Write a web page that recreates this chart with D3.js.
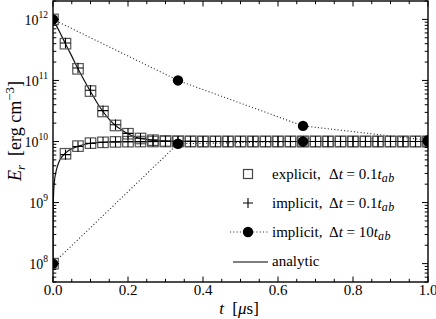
<!DOCTYPE html>
<html><head><meta charset="utf-8">
<script src="https://cdn.jsdelivr.net/npm/d3@7"></script>
<style>body{margin:0;background:#fff}svg{display:block}text{font-family:"Liberation Serif","DejaVu Serif",serif;fill:#000}</style>
</head><body><svg id="c" width="436" height="319"></svg>
<script>
// ---- data ----
const tSteps = [0,0.0333,0.0667,0.1,0.1333,0.1667,0.2,0.2333,0.2667,0.3,0.3333,0.3667,0.4,0.4333,0.4667,0.5,0.5333,0.5667,0.6,0.6333,0.6667,0.7,0.7333,0.7667,0.8,0.8333,0.8667,0.9,0.9333,0.9667,1.0];
const explicitHigh = [1e12,4.0e11,1.55e11,6.7e10,3.1e10,1.83e10,1.34e10,1.12e10,1.05e10,1.02e10,1.01e10,1.005e10,1e10,1e10,1e10,1e10,1e10,1e10,1e10,1e10,1e10,1e10,1e10,1e10,1e10,1e10,1e10,1e10,1e10,1e10,1e10];
const explicitLow  = [1e8,6.3e9,8.4e9,9.4e9,9.7e9,9.85e9,9.93e9,9.97e9,1e10,1e10,1e10,1e10,1e10,1e10,1e10,1e10,1e10,1e10,1e10,1e10,1e10,1e10,1e10,1e10,1e10,1e10,1e10,1e10,1e10,1e10,1e10];
const implicitHigh = [1e12,4.1e11,1.6e11,6.9e10,3.2e10,1.88e10,1.36e10,1.13e10,1.06e10,1.02e10,1.01e10,1.005e10,1e10,1e10,1e10,1e10,1e10,1e10,1e10,1e10,1e10,1e10,1e10,1e10,1e10,1e10,1e10,1e10,1e10,1e10,1e10];
const implicitLow  = [1e8,6.1e9,8.3e9,9.3e9,9.7e9,9.85e9,9.93e9,9.97e9,1e10,1e10,1e10,1e10,1e10,1e10,1e10,1e10,1e10,1e10,1e10,1e10,1e10,1e10,1e10,1e10,1e10,1e10,1e10,1e10,1e10,1e10,1e10];
const tBig = [0,0.3333,0.6667,1.0];
const bigHigh = [1e12,1.0e11,1.8e10,1.05e10];
const bigLow  = [1e8,9.2e9,1.0e10,1.0e10];
const tAnalytic = [0,0.0167,0.0333,0.05,0.0667,0.0833,0.1,0.1167,0.1333,0.15,0.1667,0.1833,0.2,0.2167,0.2333,0.25,0.2667,0.3,0.35,0.4,0.5,0.7,1.0];
const analyticHigh = [1e12,6.4e11,4.0e11,2.5e11,1.55e11,1.0e11,6.6e10,4.4e10,3.1e10,2.3e10,1.83e10,1.55e10,1.34e10,1.2e10,1.12e10,1.08e10,1.05e10,1.02e10,1.01e10,1e10,1e10,1e10,1e10];
const tAnalyticLow = [0,0.0003,0.001,0.002,0.004,0.007,0.01,0.015,0.02,0.03,0.04,0.05,0.07,0.1,0.13,0.16,0.2,0.25,0.3,0.4,0.5,0.7,1.0];
const analyticLow = [1e8,6e8,1.1e9,1.6e9,2.3e9,3.0e9,3.6e9,4.5e9,5.2e9,6.2e9,7.0e9,7.6e9,8.5e9,9.35e9,9.7e9,9.85e9,9.94e9,9.98e9,1e10,1e10,1e10,1e10,1e10];
const xTicks = [0,0.2,0.4,0.6,0.8,1.0];
const xTickLabels = ["0.0","0.2","0.4","0.6","0.8","1.0"];
const yDecades = [8,9,10,11,12];
const legendLabels = ["explicit,","implicit,","implicit,","analytic"];
const legendDt = ["0.1","0.1","10"];

// ---- layout ----
const svg = d3.select("#c");
const L=53, R=428, T=1, B=282;
const x = d3.scaleLinear().domain([0,1]).range([L,R]);
const y = d3.scaleLog().domain([5.0e7,2.0e12]).range([B,T]);

svg.append("defs").append("clipPath").attr("id","clip").append("rect")
  .attr("x",L).attr("y",T).attr("width",R-L).attr("height",B-T);
const plot = svg.append("g").attr("clip-path","url(#clip)");

// analytic lines
const lineA = d3.line().x(d=>x(d[0])).y(d=>y(d[1])).curve(d3.curveMonotoneX);
plot.append("path").attr("d",lineA(tAnalytic.map((t,i)=>[t,analyticHigh[i]])))
  .attr("fill","none").attr("stroke","#111").attr("stroke-width",1.2);
plot.append("path").attr("d",lineA(tAnalyticLow.map((t,i)=>[t,analyticLow[i]])))
  .attr("fill","none").attr("stroke","#111").attr("stroke-width",1.2);

// dotted lines for implicit 10 t_ab
const lineL = d3.line().x(d=>x(d[0])).y(d=>y(d[1]));
[bigHigh,bigLow].forEach(arr=>{
  plot.append("path").attr("d",lineL(tBig.map((t,i)=>[t,arr[i]])))
    .attr("fill","none").attr("stroke","#333").attr("stroke-width",1.1).attr("stroke-dasharray","1.1,2.2");
});

// squares
const S=10.5;
[explicitHigh,explicitLow].forEach(arr=>{
  plot.selectAll(null).data(tSteps.map((t,i)=>[t,arr[i]])).enter().append("rect")
    .attr("x",d=>x(d[0])-S/2).attr("y",d=>y(d[1])-S/2).attr("width",S).attr("height",S)
    .attr("fill","none").attr("stroke","#555").attr("stroke-width",1.2);
});
// pluses
const P=5.2;
[implicitHigh,implicitLow].forEach(arr=>{
  plot.selectAll(null).data(tSteps.map((t,i)=>[t,arr[i]])).enter().append("path")
    .attr("d",d=>{const cx=x(d[0]),cy=y(d[1]);return `M${cx-P},${cy}H${cx+P}M${cx},${cy-P}V${cy+P}`;})
    .attr("stroke","#000").attr("stroke-width",1.1).attr("fill","none");
});
// circles
[bigHigh,bigLow].forEach(arr=>{
  plot.selectAll(null).data(tBig.map((t,i)=>[t,arr[i]])).enter().append("circle")
    .attr("cx",d=>x(d[0])).attr("cy",d=>y(d[1])).attr("r",5.2).attr("fill","#000");
});

// ---- axes / frame ----
const ax = svg.append("g").attr("stroke","#000").attr("stroke-width",1);
const xMinor = d3.range(0,1.0001,0.05);
xMinor.forEach((v,i)=>{
  const major = i%4===0, len = major?5.5:3.2;
  ax.append("line").attr("x1",x(v)).attr("x2",x(v)).attr("y1",B).attr("y2",B-len);
  ax.append("line").attr("x1",x(v)).attr("x2",x(v)).attr("y1",T).attr("y2",T+len);
});
const yTicksAll=[];
[7,8,9,10,11,12].forEach(e=>{for(let m=1;m<10;m++){const v=m*Math.pow(10,e); if(v>=y.domain()[0]&&v<=y.domain()[1]) yTicksAll.push([v,m===1]);}});
yTicksAll.forEach(([v,major])=>{
  const len = major?6:3.3;
  ax.append("line").attr("x1",L).attr("x2",L+len).attr("y1",y(v)).attr("y2",y(v));
  ax.append("line").attr("x1",R).attr("x2",R-len).attr("y1",y(v)).attr("y2",y(v));
});
svg.append("rect").attr("x",L).attr("y",T).attr("width",R-L).attr("height",B-T)
  .attr("fill","none").attr("stroke","#000").attr("stroke-width",1.4);

// tick labels
xTicks.forEach((v,i)=>{
  svg.append("text").attr("x",x(v)).attr("y",295).attr("text-anchor","middle")
    .attr("font-size",15).text(xTickLabels[i]);
});
yDecades.forEach(e=>{
  const t = svg.append("text").attr("x",48).attr("y",y(Math.pow(10,e))+5.5).attr("text-anchor","end").attr("font-size",14);
  t.append("tspan").text("10");
  t.append("tspan").attr("font-size",9.5).attr("dy",-7).text(String(e));
});

// axis titles
const xt = svg.append("text").attr("x",239).attr("y",314).attr("text-anchor","middle").attr("font-size",17);
xt.append("tspan").attr("font-style","italic").text("t");
xt.append("tspan").text("\u2002[");
xt.append("tspan").attr("font-style","italic").text("\u03bc");
xt.append("tspan").text("s]");

const yt = svg.append("text").attr("transform","translate(21,131) rotate(-90)").attr("text-anchor","middle").attr("font-size",18);
yt.append("tspan").attr("font-style","italic").text("E");
yt.append("tspan").attr("font-style","italic").attr("font-size",13).attr("dy",4).text("r");
yt.append("tspan").attr("dy",-4).text("\u2002[erg cm");
yt.append("tspan").attr("font-size",13).attr("dy",-7).text("\u22123");
yt.append("tspan").attr("dy",7).text("]");

// legend
const lx=248, rows=[174,203,232,262], tx=272;
svg.append("rect").attr("x",lx-4.5).attr("y",rows[0]-4.5).attr("width",9).attr("height",9)
  .attr("fill","none").attr("stroke","#444").attr("stroke-width",1.2);
svg.append("path").attr("d",`M${lx-5},${rows[1]}H${lx+5}M${lx},${rows[1]-5}V${rows[1]+5}`).attr("stroke","#000").attr("stroke-width",1.1);
svg.append("line").attr("x1",230).attr("x2",268).attr("y1",rows[2]).attr("y2",rows[2])
  .attr("stroke","#333").attr("stroke-width",1.1).attr("stroke-dasharray","1.1,2.2");
svg.append("circle").attr("cx",lx).attr("cy",rows[2]).attr("r",5.2).attr("fill","#000");
svg.append("line").attr("x1",233).attr("x2",268).attr("y1",rows[3]).attr("y2",rows[3])
  .attr("stroke","#555").attr("stroke-width",1.3);
for(let i=0;i<3;i++){
  const by = rows[i]+5;
  const t = svg.append("text").attr("y",by).attr("font-size",15);
  t.append("tspan").attr("x",tx).text(legendLabels[i]);
  t.append("tspan").attr("x",329).text("\u0394");
  t.append("tspan").attr("font-style","italic").text("t");
  t.append("tspan").text(" = "+legendDt[i]);
  t.append("tspan").attr("font-style","italic").text("t");
  t.append("tspan").attr("font-style","italic").attr("font-size",12).attr("dy",3).attr("letter-spacing",0.5).text("ab");
}
svg.append("text").attr("x",tx).attr("y",rows[3]+4).attr("font-size",15).text(legendLabels[3]);
</script></body></html>
